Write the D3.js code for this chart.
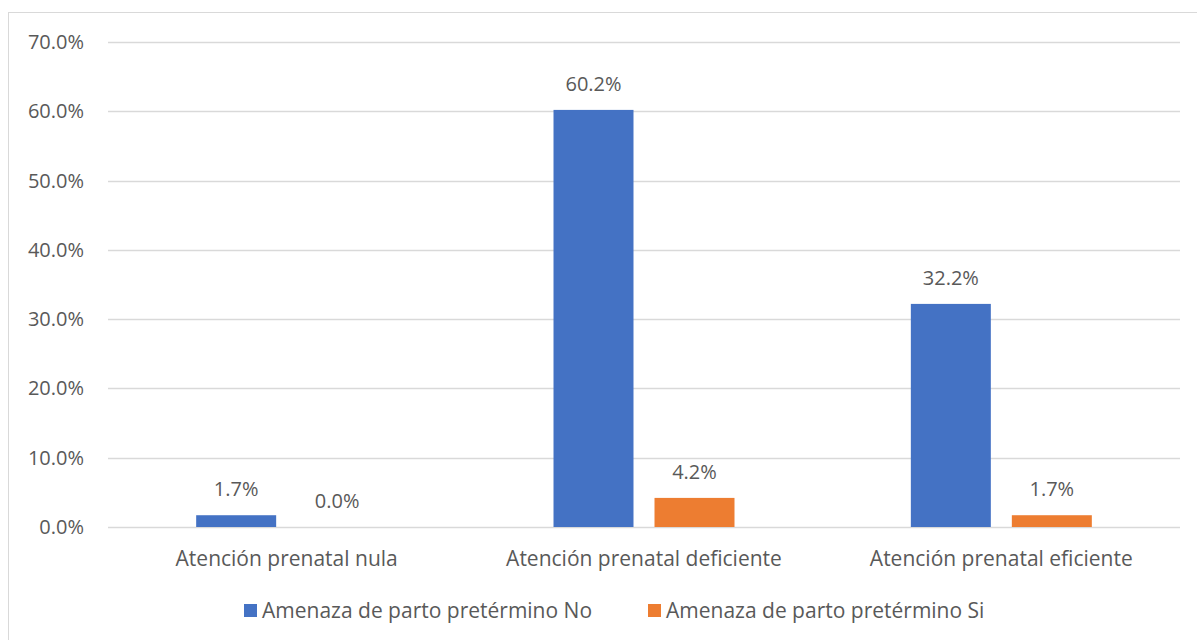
<!DOCTYPE html>
<html>
  <head>
    <meta charset="utf-8">
    <title>Amenaza de parto pretérmino</title>
    <style>
    body { margin: 0; background: #fff; }
    text { font-family: "Open Sans", "Noto Sans", sans-serif; fill: #595959; }
    </style>
  </head>
  <body>
    <script src="https://d3js.org/d3.v7.min.js"></script>
    <script>
      // Datos del gráfico
      var categorias = ["Atención prenatal nula", "Atención prenatal deficiente", "Atención prenatal eficiente"];
      var series = ["Amenaza de parto pretérmino No", "Amenaza de parto pretérmino Si"];
      var valoresNo = [1.7, 60.2, 32.2];
      var valoresSi = [0.0, 4.2, 1.7];
      var ticks = [0, 10, 20, 30, 40, 50, 60, 70];
      var colores = ["#4472c4", "#ed7d31"];

      var width = 1197, height = 640;
      var margin = {left: 108, right: 17, top: 42, bottom: 113};

      var svg = d3.select("body").append("svg")
        .attr("width", width)
        .attr("height", height);

      // Borde del área del gráfico
      svg.append("rect")
        .attr("x", 8.5).attr("y", 12.5)
        .attr("width", 1200).attr("height", 700)
        .attr("fill", "none")
        .attr("stroke", "#d9d9d9");

      var x0 = d3.scaleBand()
        .domain(categorias)
        .range([margin.left, width - margin.right]);

      var x1 = d3.scaleBand()
        .domain(series)
        .range([0, x0.bandwidth()])
        .paddingInner(0.208)
        .paddingOuter(0.873);

      var y = d3.scaleLinear()
        .domain([0, 70])
        .range([height - margin.bottom, margin.top]);

      // Líneas de cuadrícula
      svg.append("g")
        .selectAll("line")
        .data(ticks)
        .enter().append("line")
        .attr("x1", margin.left)
        .attr("x2", width - margin.right)
        .attr("y1", function(d){ return Math.round(y(d)) + 0.5; })
        .attr("y2", function(d){ return Math.round(y(d)) + 0.5; })
        .attr("stroke", "#d9d9d9")
        .attr("stroke-width", 1.5);

      // Etiquetas del eje Y
      svg.append("g")
        .selectAll("text")
        .data(ticks)
        .enter().append("text")
        .attr("x", 84)
        .attr("y", function(d){ return y(d); })
        .attr("dy", "0.35em")
        .attr("text-anchor", "end")
        .style("font-size", "20px")
        .text(function(d){ return d.toFixed(1) + "%"; });

      var datos = categorias.map(function(c, i){
        return {cat: c, vals: [
          {serie: series[0], v: valoresNo[i], color: colores[0]},
          {serie: series[1], v: valoresSi[i], color: colores[1]}
        ]};
      });

      var grupos = svg.selectAll(".grupo")
        .data(datos)
        .enter().append("g")
        .attr("class", "grupo")
        .attr("transform", function(d){ return "translate(" + x0(d.cat) + ",0)"; });

      grupos.selectAll("rect")
        .data(function(d){ return d.vals; })
        .enter().append("rect")
        .attr("x", function(d){ return x1(d.serie); })
        .attr("width", x1.bandwidth())
        .attr("y", function(d){ return y(d.v); })
        .attr("height", function(d){ return y(0) - y(d.v); })
        .attr("fill", function(d){ return d.color; });

      grupos.selectAll("text.valor")
        .data(function(d){ return d.vals; })
        .enter().append("text")
        .attr("class", "valor")
        .attr("x", function(d){ return x1(d.serie) + x1.bandwidth() / 2; })
        .attr("y", function(d){ return y(d.v) - 19; })
        .attr("text-anchor", "middle")
        .style("font-size", "20px")
        .text(function(d){ return d.v.toFixed(1) + "%"; });

      // Etiquetas de categorías
      svg.append("g")
        .selectAll("text")
        .data(categorias)
        .enter().append("text")
        .attr("x", function(d){ return x0(d) + x0.bandwidth() / 2; })
        .attr("y", 566)
        .attr("text-anchor", "middle")
        .style("font-size", "21px")
        .text(function(d){ return d; });

      // Leyenda
      var leyX = [244, 648];
      var ley = svg.selectAll(".ley")
        .data(series)
        .enter().append("g")
        .attr("class", "ley")
        .attr("transform", function(d, i){ return "translate(" + leyX[i] + ",604)"; });
      ley.append("rect")
        .attr("width", 13).attr("height", 13)
        .attr("fill", function(d, i){ return colores[i]; });
      ley.append("text")
        .attr("x", 18).attr("y", 7)
        .attr("dy", "0.35em")
        .style("font-size", "21px")
        .text(function(d){ return d; });
    </script>
  </body>
</html>
